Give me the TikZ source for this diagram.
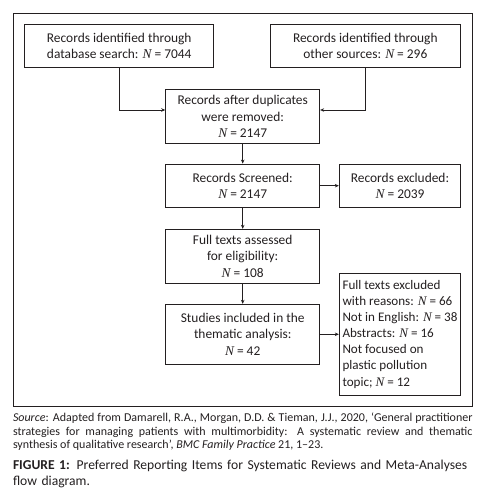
\documentclass[tikz,border=0pt]{standalone}
\usepackage{fontspec}
\setmainfont{Carlito}
\newfontfamily\nfont{Liberation Serif}
\usetikzlibrary{arrows.meta}
\newcommand{\NN}{{\nfont\itshape N}}
\definecolor{ink}{HTML}{231F20}
\begin{document}
\begin{tikzpicture}[x=1pt,y=-1pt,
  every node/.style={text=ink},
  box/.style={draw=ink, line width=0.9pt, align=center, inner sep=0pt, font=\fontsize{13.4}{16.3}\selectfont},
  arr/.style={draw=ink, -{Stealth[length=4pt,width=3.5pt]}, line width=0.9pt}]
\useasboundingbox (0,0) rectangle (483,502);
\draw[ink, line width=0.9pt] (13.3,13.3) rectangle (472.7,406);
\node[box, minimum width=189pt, minimum height=43pt] (A) at (119.2,45.8) {Records identified through\\database search: \NN{} = 7044};
\node[box, minimum width=190.7pt, minimum height=43pt] (B) at (365.3,45.8) {Records identified through\\other sources: \NN{} = 296};
\node[box, minimum width=154pt, minimum height=53.6pt] (C) at (242.7,116.5) {Records after duplicates\\were removed:\\\NN{} = 2147};
\node[box, minimum width=154pt, minimum height=43.3pt] (D) at (242.7,185.7) {Records Screened:\\\NN{} = 2147};
\node[box, minimum width=121.4pt, minimum height=43.3pt] (E) at (400,185.7) {Records excluded:\\\NN{} = 2039};
\node[box, minimum width=154pt, minimum height=54pt] (F) at (242.7,256.3) {Full texts assessed\\for eligibility:\\\NN{} = 108};
\node[box, minimum width=154pt, minimum height=60pt] (G) at (242.7,334.3) {Studies included in the\\thematic analysis:\\\NN{} = 42};
\node[box, minimum width=121.4pt, minimum height=122pt, align=left, font=\fontsize{13.1}{16.1}\selectfont] (H) at (400,334.3) {Full texts excluded\\with reasons: \NN{} = 66\\Not in English: \NN{} = 38\\Abstracts: \NN{} = 16\\Not focused on\\plastic pollution\\topic; \NN{} = 12};
\draw[arr] (A.south) |- ([yshift=6.5pt]C.west);
\draw[arr] (B.south) |- ([yshift=6.5pt]C.east);
\draw[arr] (C) -- (D);
\draw[arr] (D) -- (E);
\draw[arr] (D) -- (F);
\draw[arr] (F) -- (G);
\draw[arr] (G) -- (H);
\node[anchor=north west, inner sep=0pt, text width=459.5pt, align=justify, font=\fontsize{12}{13.2}\selectfont] (S) at (12.8,413) {\textit{Source}: Adapted from Damarell, R.A., Morgan, D.D. \& Tieman, J.J., 2020, `General practitioner\linebreak strategies for managing patients with multimorbidity: A systematic review and thematic\linebreak synthesis of qualitative research', \textit{BMC Family Practice} 21, 1--23.};
\node[anchor=north west, inner sep=0pt, text width=459.5pt, align=left, font=\fontsize{13.6}{16.3}\selectfont] (T) at (12.8,459.5) {\hyphenpenalty=10000 \textbf{FIGURE 1:} Preferred Reporting Items for Systematic Reviews and Meta-Analyses flow diagram.};
\end{tikzpicture}
\end{document}
